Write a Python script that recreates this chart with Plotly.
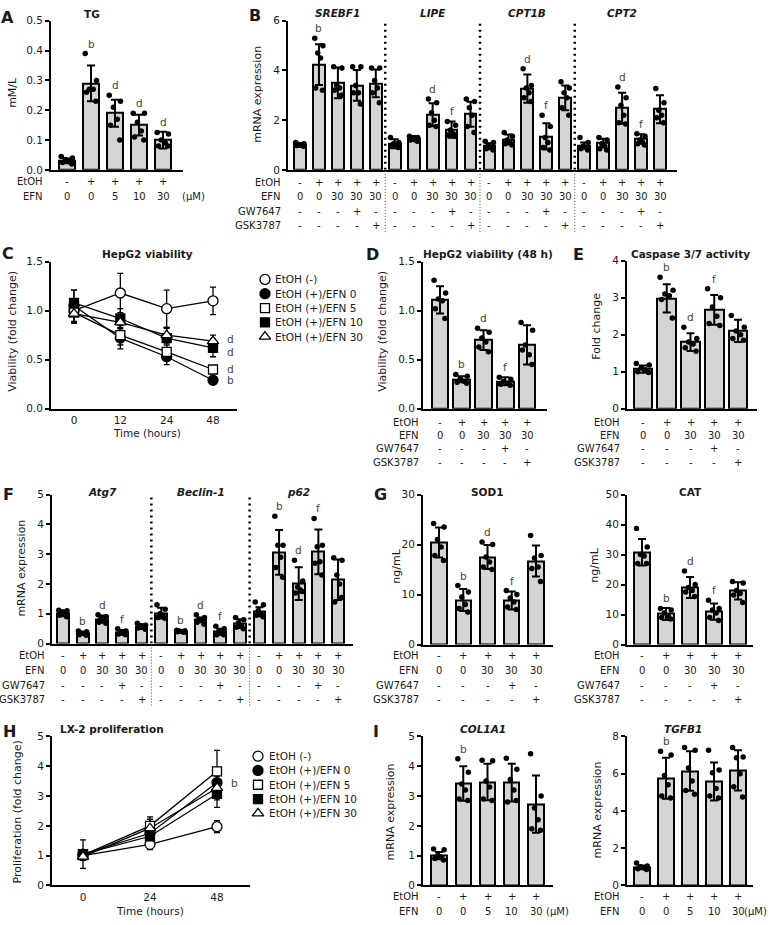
import plotly.graph_objects as go

W, H = 771, 925
FONT = "DejaVu Sans"
FS = 10
TFS = 10.5
INK = "#1a1a1a"
BARC = "#d4d4d4"


def px(x):
    return x / W


def py(y):
    return 1 - y / H


# ======================= DATA =======================
# Panel A: TG
tg_mean = [0.03, 0.29, 0.19, 0.15, 0.10]
tg_sd = [0.008, 0.06, 0.045, 0.035, 0.028]
tg_pts = [[0.045, 0.04, 0.035, 0.03, 0.025, 0.02],
          [0.39, 0.30, 0.27, 0.27, 0.26, 0.23],
          [0.25, 0.23, 0.21, 0.17, 0.15, 0.10],
          [0.19, 0.19, 0.16, 0.13, 0.11, 0.10],
          [0.125, 0.12, 0.10, 0.09, 0.08, 0.08]]
tg_letters = ["", "b", "d", "d", "d"]
tg_etoh = ["-", "+", "+", "+", "+"]
tg_efn = ["0", "0", "5", "10", "30"]

# shared treatment table (B, D, E, F, G)
trt_etoh = ["-", "+", "+", "+", "+"]
trt_efn = ["0", "0", "30", "30", "30"]
trt_gw = ["-", "-", "-", "+", "-"]
trt_gsk = ["-", "-", "-", "-", "+"]
trt_rows = ["EtOH", "EFN", "GW7647", "GSK3787"]

# Panel B: lipid genes
b_genes = ["SREBF1", "LIPE", "CPT1B", "CPT2"]
b_mean = [[1.00, 4.24, 3.50, 3.40, 3.48],
          [1.05, 1.26, 2.22, 1.62, 2.24],
          [0.95, 1.22, 3.27, 1.35, 2.90],
          [0.98, 1.09, 2.48, 1.25, 2.44]]
b_sd = [[0.08, 0.82, 0.62, 0.62, 0.56],
        [0.18, 0.10, 0.46, 0.33, 0.50],
        [0.12, 0.20, 0.57, 0.53, 0.50],
        [0.12, 0.16, 0.62, 0.18, 0.56]]
b_pts = [
    [[1.10, 1.05, 1.02, 1.0, 0.98, 0.95], [5.3, 5.0, 4.7, 4.5, 3.3, 3.2],
     [4.15, 4.1, 3.4, 3.3, 3.2, 3.0], [4.15, 4.15, 3.4, 3.1, 3.1, 2.65],
     [4.1, 4.1, 3.6, 3.3, 3.1, 2.7]],
    [[1.3, 1.1, 1.05, 1.0, 0.95, 0.9], [1.35, 1.3, 1.25, 1.2, 1.2, 1.15],
     [2.85, 2.7, 2.3, 2.0, 1.8, 1.75], [1.95, 1.8, 1.6, 1.45, 1.4, 1.35],
     [2.85, 2.75, 2.5, 2.2, 1.75, 1.5]],
    [[1.15, 1.1, 1.0, 0.9, 0.85, 0.8], [1.5, 1.35, 1.2, 1.1, 1.05, 1.0],
     [4.07, 3.4, 3.3, 3.1, 2.9, 2.75], [2.2, 1.75, 1.3, 1.1, 0.9, 0.8],
     [3.55, 3.3, 3.1, 2.9, 2.5, 2.2]],
    [[1.3, 1.1, 0.95, 0.9, 0.85, 0.8], [1.3, 1.2, 1.05, 0.95, 0.85, 0.8],
     [3.34, 2.9, 2.6, 2.2, 1.9, 1.85], [1.45, 1.35, 1.2, 1.1, 1.05, 1.0],
     [3.27, 2.7, 2.4, 2.2, 2.1, 1.9]],
]
b_letters = [["", "b", "", "", ""], ["", "", "d", "f", ""],
             ["", "", "d", "f", ""], ["", "", "d", "f", ""]]

# Panel C: HepG2 viability time course
c_times = ["0", "12", "24", "48"]
series_names = ["EtOH (-)", "EtOH (+)/EFN 0", "EtOH (+)/EFN 5",
                "EtOH (+)/EFN 10", "EtOH (+)/EFN 30"]
c_mean = [[1.00, 1.18, 1.02, 1.10],
          [1.05, 0.72, 0.53, 0.29],
          [0.98, 0.75, 0.58, 0.40],
          [1.08, 0.92, 0.72, 0.62],
          [0.97, 0.88, 0.75, 0.69]]
c_sd = [[0.05, 0.20, 0.19, 0.14],
        [0.16, 0.11, 0.08, 0.02],
        [0.10, 0.10, 0.07, 0.03],
        [0.13, 0.10, 0.10, 0.09],
        [0.10, 0.08, 0.08, 0.06]]
c_letters = ["", "b", "d", "d", "d"]

# Panel D: HepG2 viability 48 h
d_mean = [1.11, 0.30, 0.70, 0.28, 0.65]
d_sd = [0.14, 0.03, 0.10, 0.04, 0.20]
d_pts = [[1.31, 1.18, 1.12, 1.10, 1.02, 0.92], [0.35, 0.33, 0.30, 0.28, 0.27, 0.26],
         [0.82, 0.78, 0.72, 0.68, 0.63, 0.58], [0.32, 0.30, 0.28, 0.26, 0.25, 0.24],
         [0.88, 0.80, 0.65, 0.55, 0.60, 0.45]]
d_letters = ["", "b", "d", "f", ""]

# Panel E: Caspase 3/7
e_mean = [1.07, 2.98, 1.80, 2.67, 2.10]
e_sd = [0.10, 0.38, 0.24, 0.40, 0.30]
e_pts = [[1.22, 1.18, 1.10, 1.05, 1.00, 0.98], [3.55, 3.20, 3.10, 3.05, 2.95, 2.45],
         [2.20, 1.90, 1.80, 1.75, 1.65, 1.55], [3.24, 3.00, 2.75, 2.50, 2.30, 2.25],
         [2.52, 2.20, 2.10, 2.00, 1.90, 1.85]]
e_letters = ["", "b", "d", "f", ""]

# Panel F: autophagy genes
f_genes = ["Atg7", "Beclin-1", "p62"]
f_mean = [[1.02, 0.35, 0.82, 0.38, 0.57],
          [1.02, 0.42, 0.80, 0.40, 0.67],
          [1.07, 3.06, 2.01, 3.08, 2.14]]
f_sd = [[0.10, 0.05, 0.12, 0.08, 0.08],
        [0.18, 0.04, 0.08, 0.10, 0.15],
        [0.15, 0.75, 0.55, 0.75, 0.68]]
f_pts = [
    [[1.12, 1.10, 1.05, 1.0, 0.95, 0.9], [0.42, 0.40, 0.35, 0.33, 0.30, 0.28],
     [0.97, 0.90, 0.85, 0.80, 0.72, 0.68], [0.50, 0.42, 0.38, 0.35, 0.32, 0.30],
     [0.68, 0.62, 0.60, 0.55, 0.52, 0.48]],
    [[1.30, 1.15, 1.0, 0.95, 0.88, 0.85], [0.45, 0.43, 0.42, 0.40, 0.40, 0.38],
     [0.97, 0.88, 0.82, 0.78, 0.72, 0.65], [0.58, 0.50, 0.40, 0.35, 0.30, 0.30],
     [0.88, 0.80, 0.70, 0.60, 0.55, 0.50]],
    [[1.40, 1.30, 1.10, 1.0, 0.95, 0.9], [4.27, 3.30, 3.30, 2.90, 2.55, 2.23],
     [2.80, 2.10, 1.90, 1.80, 1.70, 1.75], [4.20, 3.30, 3.25, 2.75, 2.70, 2.30],
     [2.88, 2.80, 2.30, 2.00, 1.40, 1.55]],
]
f_letters = [["", "b", "d", "f", ""], ["", "b", "d", "f", ""], ["", "b", "d", "f", ""]]

# Panel G: SOD1 and CAT
sod_mean = [20.4, 8.9, 17.5, 8.8, 16.7]
sod_sd = [3.0, 2.2, 2.4, 1.8, 3.1]
sod_pts = [[24.2, 23.5, 21.0, 19.5, 17.8, 16.8], [11.8, 10.5, 9.5, 8.0, 7.2, 6.5],
           [20.5, 20.0, 17.5, 16.5, 15.5, 15.0], [10.8, 10.0, 9.3, 8.5, 7.5, 7.0],
           [21.8, 17.8, 17.3, 15.5, 15.2, 12.6]]
cat_mean = [30.8, 10.2, 19.0, 11.0, 17.9]
cat_sd = [4.4, 2.0, 3.5, 2.7, 2.9]
cat_pts = [[38.7, 32.5, 30.0, 29.5, 27.0, 27.0], [12.0, 11.5, 10.5, 9.5, 9.0, 8.5],
           [24.5, 20.0, 19.0, 18.0, 17.5, 16.0], [14.8, 12.0, 11.5, 10.5, 9.0, 8.0],
           [21.0, 20.5, 18.0, 17.0, 16.5, 14.0]]
g_letters = ["", "b", "d", "f", ""]

# Panel H: LX-2 proliferation
h_times = ["0", "24", "48"]
h_mean = [[1.00, 1.38, 1.97],
          [1.05, 1.75, 3.45],
          [1.02, 2.00, 3.83],
          [1.05, 1.65, 3.07],
          [0.97, 1.92, 3.27]]
h_sd = [[0.08, 0.18, 0.20],
        [0.48, 0.25, 0.50],
        [0.10, 0.30, 0.70],
        [0.12, 0.20, 0.45],
        [0.10, 0.30, 0.40]]
h_letters = ["", "b", "", "", ""]

# Panel I: COL1A1 and TGFB1
i_etoh = ["-", "+", "+", "+", "+"]
i_efn = ["0", "0", "5", "10", "30"]
col_mean = [1.00, 3.42, 3.47, 3.45, 2.73]
col_sd = [0.12, 0.58, 0.61, 0.63, 0.96]
col_pts = [[1.22, 1.20, 1.0, 0.95, 0.9, 0.85], [4.25, 3.80, 3.40, 3.20, 2.90, 2.85],
           [4.20, 4.18, 3.50, 3.30, 2.90, 2.85], [4.27, 3.90, 3.55, 3.20, 2.80, 2.85],
           [4.42, 3.00, 2.60, 2.20, 1.90, 1.85]]
tgf_mean = [0.97, 5.75, 6.14, 5.58, 6.18]
tgf_sd = [0.10, 1.10, 1.06, 1.02, 1.08]
tgf_pts = [[1.20, 1.05, 1.0, 0.95, 0.9, 0.85], [7.20, 7.00, 5.90, 5.40, 4.80, 4.70],
           [7.40, 7.25, 6.30, 5.60, 5.10, 4.90], [7.25, 6.20, 6.05, 5.20, 4.80, 4.70],
           [7.40, 6.90, 6.85, 6.00, 5.30, 4.75]]
i_letters = ["", "b", "", "", ""]

# ======================= FIGURE =======================
fig = go.Figure()
ann = []
shapes = []
layout = {}

JIT = [-0.36, 0.34, -0.1, 0.14, -0.28, 0.3]


def txt(t, x, y, size=FS, xanchor="center", yanchor="middle", angle=0,
        xref="paper", yref="paper", yshift=0, xshift=0, color=INK):
    ann.append(dict(text=t, x=x, y=y, xref=xref, yref=yref, showarrow=False,
                    xanchor=xanchor, yanchor=yanchor, textangle=angle,
                    yshift=yshift, xshift=xshift,
                    font=dict(family=FONT, size=size, color=color)))


def make_axes(n, xl, xr, yt, yb, xrange, yrange, ytickvals, yfmt=None,
              xtickvals=None, xticktext=None):
    layout[f"xaxis{n}"] = dict(
        domain=[px(xl), px(xr)], range=xrange, anchor=f"y{n}",
        showline=True, linecolor="black", linewidth=2, showgrid=False,
        zeroline=False, fixedrange=True,
        ticks="outside" if xtickvals else "", ticklen=1,
        tickcolor="rgba(0,0,0,0)",
        showticklabels=bool(xtickvals),
        tickvals=xtickvals, ticktext=xticktext,
        tickfont=dict(family=FONT, size=TFS, color=INK))
    layout[f"yaxis{n}"] = dict(
        domain=[py(yb), py(yt)], range=yrange, anchor=f"x{n}",
        showline=True, linecolor="black", linewidth=2, showgrid=False,
        zeroline=False, fixedrange=True, ticks="outside", ticklen=4,
        tickwidth=1.5, tickcolor="black", tickvals=ytickvals,
        tickformat=yfmt, tickfont=dict(family=FONT, size=TFS, color=INK))


def x_range(first_px, last_px, n, left_px, right_px):
    step = (last_px - first_px) / (n - 1)
    return [-(first_px - left_px) / step, (n - 1) + (right_px - last_px) / step]


def bars(n, means, sds, pts, letters, width, offset=0):
    xs = [offset + i for i in range(len(means))]
    fig.add_trace(go.Bar(
        x=xs, y=means, width=width, xaxis=f"x{n}", yaxis=f"y{n}",
        marker=dict(color=BARC, line=dict(color="black", width=2)),
        error_y=dict(type="data", array=sds, symmetric=True, color="black",
                     thickness=2, width=4),
        showlegend=False, hoverinfo="skip"))
    dx, dy = [], []
    for i, p in enumerate(pts):
        for k, v in enumerate(p):
            dx.append(offset + i + JIT[k % len(JIT)] * width)
            dy.append(v)
    fig.add_trace(go.Scatter(
        x=dx, y=dy, mode="markers", xaxis=f"x{n}", yaxis=f"y{n}",
        marker=dict(color="black", size=5.5), showlegend=False,
        hoverinfo="skip", cliponaxis=False))
    for i, l in enumerate(letters):
        if l:
            top = max(max(pts[i]), means[i] + sds[i])
            txt(l, offset + i, top, xref=f"x{n}", yref=f"y{n}", size=TFS,
                yanchor="bottom", yshift=2, color="#444444")


def table(n, rows, ys, right_px):
    for (label, vals), y in zip(rows, ys):
        txt(label, px(right_px), py(y), xanchor="right")
        for i, v in enumerate(vals):
            txt(v, i, py(y), xref=f"x{n}")


# ---- A ----
make_axes(1, 51, 183, 15, 166, x_range(67, 163, 5, 51, 183), [0, 0.5],
          [0, 0.1, 0.2, 0.3, 0.4, 0.5], ".1f")
bars(1, tg_mean, tg_sd, tg_pts, tg_letters, 0.67)
table(1, [("EtOH", tg_etoh), ("EFN", tg_efn)], [178, 193], 45)
txt("(μM)", px(180), py(193), xanchor="left")
txt("<b>TG</b>", px(92), py(8), size=10.5)
txt("mM/L", px(13), py(88), angle=-90, size=11)
txt("<b>A</b>", px(7), py(12), size=16)

# ---- B ----
nb = sum(len(m) for m in b_mean)
make_axes(2, 288, 677, 15, 166, x_range(300, 660, nb, 288, 677), [0, 6],
          [0, 2, 4, 6])
b_rows = [[], [], [], []]
for g, gene in enumerate(b_genes):
    off = g * 5
    bars(2, b_mean[g], b_sd[g], b_pts[g], b_letters[g], 0.62, offset=off)
    for r, vals in enumerate([trt_etoh, trt_efn, trt_gw, trt_gsk]):
        b_rows[r] += vals
    txt(f"<b><i>{gene}</i></b>", off + 2, py(7), xref="x2", size=10.5)
    if g > 0:
        shapes.append(dict(type="line", xref="x2", yref="y2", x0=off - 0.5,
                           x1=off - 0.5, y0=0, y1=6,
                           line=dict(color="black", width=2.5, dash="2px,4px")))
        shapes.append(dict(type="line", xref="x2", yref="paper", x0=off - 0.5,
                           x1=off - 0.5, y0=py(167), y1=py(229),
                           line=dict(color="#444", width=1, dash="1px,2px")))
table(2, list(zip(trt_rows, b_rows)), [179, 193, 208, 222], 283)
txt("mRNA expression", px(258), py(90), angle=-90, size=11)
txt("<b>B</b>", px(255), py(10), size=16)

# ---- C ----
symbols = ["circle", "circle", "square", "square", "triangle-up"]
fills = ["white", "black", "white", "black", "white"]
msize = [10, 10, 9, 9, 10]
make_axes(3, 51, 237, 259, 408, x_range(74, 213, 4, 51, 237), [0, 1.5],
          [0, 0.5, 1.0, 1.5], ".1f", xtickvals=[0, 1, 2, 3], xticktext=c_times)


def line_panel(n, means, sds, lx, ly0, lstep, ltext_x):
    xs = list(range(len(means[0])))
    for s in range(len(means)):
        fig.add_trace(go.Scatter(
            x=xs, y=means[s], mode="lines", xaxis=f"x{n}", yaxis=f"y{n}",
            line=dict(color="black", width=1.3),
            error_y=dict(type="data", array=sds[s], color="black",
                         thickness=1.3, width=3),
            showlegend=False, hoverinfo="skip"))
    for s in range(len(means)):
        fig.add_trace(go.Scatter(
            x=xs, y=means[s], mode="markers", xaxis=f"x{n}", yaxis=f"y{n}",
            marker=dict(symbol=symbols[s], size=msize[s], color=fills[s],
                        line=dict(color="black", width=1.3)),
            showlegend=False, hoverinfo="skip", cliponaxis=False))
    # legend, drawn on the pixel overlay axis
    ly = [ly0 + i * lstep for i in range(len(means))]
    for s in range(len(means)):
        fig.add_trace(go.Scatter(
            x=[lx], y=[ly[s]], mode="markers", xaxis="x12", yaxis="y12",
            marker=dict(symbol=symbols[s], size=msize[s], color=fills[s],
                        line=dict(color="black", width=1.3)),
            showlegend=False, hoverinfo="skip", cliponaxis=False))
        txt(series_names[s], px(ltext_x), py(ly[s]), xanchor="left", size=10.5)


line_panel(3, c_mean, c_sd, 265, 277, 14.5, 273)
c_shift = [0, 0, 0, -4, 2]
for s, l in enumerate(c_letters):
    if l:
        txt(l, 3, c_mean[s][-1], xref="x3", yref="y3", xshift=17, size=TFS,
            yshift=c_shift[s], color="#444444")
txt("<b>HepG2 viability</b>", px(147), py(251), size=10.5)
txt("Time (hours)", px(147), py(433), size=TFS)
txt("Viability (fold change)", px(13), py(330), angle=-90, size=11)
txt("<b>C</b>", px(8), py(251), size=16)

# ---- D ----
make_axes(4, 423, 547, 259, 408, x_range(440, 527, 5, 423, 547), [0, 1.5],
          [0, 0.5, 1.0, 1.5], ".1f")
bars(4, d_mean, d_sd, d_pts, d_letters, 0.76)
table(4, list(zip(trt_rows, [trt_etoh, trt_efn, trt_gw, trt_gsk])),
      [422, 435, 448, 462], 421)
txt("<b>HepG2 viability (48 h)</b>", px(488), py(251), size=10.5)
txt("Viability (fold change)", px(383), py(330), angle=-90, size=11)
txt("<b>D</b>", px(372), py(252), size=16)

# ---- E ----
make_axes(5, 627, 757, 258, 408, x_range(643, 738, 5, 627, 757), [0, 4],
          [0, 1, 2, 3, 4])
bars(5, e_mean, e_sd, e_pts, e_letters, 0.78)
table(5, list(zip(trt_rows, [trt_etoh, trt_efn, trt_gw, trt_gsk])),
      [422, 435, 448, 462], 622)
txt("<b>Caspase 3/7 activity</b>", px(690), py(251), size=10.5)
txt("Fold change", px(597), py(325), angle=-90, size=11)
txt("<b>E</b>", px(578), py(252), size=16)

# ---- F ----
nf = sum(len(m) for m in f_mean)
make_axes(6, 52, 353, 495, 646, x_range(63, 338, nf, 52, 353), [0, 5],
          [0, 1, 2, 3, 4, 5])
f_rows = [[], [], [], []]
for g, gene in enumerate(f_genes):
    off = g * 5
    bars(6, f_mean[g], f_sd[g], f_pts[g], f_letters[g], 0.6, offset=off)
    for r, vals in enumerate([trt_etoh, trt_efn, trt_gw, trt_gsk]):
        f_rows[r] += vals
    txt(f"<b><i>{gene}</i></b>", off + 2, py(492), xref="x6", size=10.5)
    if g > 0:
        shapes.append(dict(type="line", xref="x6", yref="y6", x0=off - 0.5,
                           x1=off - 0.5, y0=0, y1=5,
                           line=dict(color="black", width=2.5, dash="2px,4px")))
        shapes.append(dict(type="line", xref="x6", yref="paper", x0=off - 0.5,
                           x1=off - 0.5, y0=py(647), y1=py(709),
                           line=dict(color="#444", width=1, dash="1px,2px")))
table(6, list(zip(trt_rows, f_rows)), [658, 673, 688, 703], 47)
txt("mRNA expression", px(22), py(570), angle=-90, size=11)
txt("<b>F</b>", px(8), py(495), size=16)

# ---- G ----
make_axes(7, 423, 553, 495, 647, x_range(439, 536, 5, 423, 553), [0, 30],
          [0, 10, 20, 30])
bars(7, sod_mean, sod_sd, sod_pts, g_letters, 0.62)
table(7, list(zip(trt_rows, [trt_etoh, trt_efn, trt_gw, trt_gsk])),
      [658, 673, 688, 703], 421)
txt("<b>SOD1</b>", px(487), py(492), size=10.5)
txt("ng/mL", px(397), py(567), angle=-90, size=11)
txt("<b>G</b>", px(380), py(495), size=16)

make_axes(8, 627, 753, 495, 647, x_range(642, 738, 5, 627, 753), [0, 50],
          [0, 10, 20, 30, 40, 50])
bars(8, cat_mean, cat_sd, cat_pts, g_letters, 0.64)
table(8, list(zip(trt_rows, [trt_etoh, trt_efn, trt_gw, trt_gsk])),
      [658, 673, 688, 703], 622)
txt("<b>CAT</b>", px(690), py(492), size=10.5)
txt("ng/mL", px(595), py(567), angle=-90, size=11)

# ---- H ----
make_axes(9, 52, 250, 740, 891, x_range(83, 217, 3, 52, 250), [0, 5],
          [0, 1, 2, 3, 4, 5], xtickvals=[0, 1, 2], xticktext=h_times)
line_panel(9, h_mean, h_sd, 258, 760, 14.5, 267)
for s, l in enumerate(h_letters):
    if l:
        txt(l, 2, h_mean[s][-1], xref="x9", yref="y9", xshift=17, size=TFS,
            color="#444444")
txt("<b>LX-2 proliferation</b>", px(112), py(733), size=10.5)
txt("Time (hours)", px(150), py(917), size=TFS)
txt("Proliferation (fold change)", px(17), py(817), angle=-90, size=11)
txt("<b>H</b>", px(9), py(735), size=16)

# ---- I ----
make_axes(10, 423, 553, 740, 891, x_range(439, 536, 5, 423, 553), [0, 5],
          [0, 1, 2, 3, 4, 5])
bars(10, col_mean, col_sd, col_pts, i_letters, 0.62)
table(10, [("EtOH", i_etoh), ("EFN", i_efn)], [902, 917], 421)
txt("(μM)", px(544), py(917), xanchor="left")
txt("<b><i>COL1A1</i></b>", px(483), py(733), size=10.5)
txt("mRNA expression", px(390), py(817), angle=-90, size=11)
txt("<b>I</b>", px(376), py(735), size=16)

make_axes(11, 627, 753, 740, 891, x_range(642, 738, 5, 627, 753), [0, 8],
          [0, 2, 4, 6, 8])
bars(11, tgf_mean, tgf_sd, tgf_pts, i_letters, 0.63)
table(11, [("EtOH", i_etoh), ("EFN", i_efn)], [902, 917], 622)
txt("(μM)", px(769), py(917), xanchor="right")
txt("<b><i>TGFB1</i></b>", px(683), py(733), size=10.5)
txt("mRNA expression", px(597), py(815), angle=-90, size=11)

# ---- pixel overlay axis for the legend markers ----
layout["xaxis12"] = dict(domain=[0, 1], range=[0, W], anchor="y12", visible=False,
                         fixedrange=True)
layout["yaxis12"] = dict(domain=[0, 1], range=[H, 0], anchor="x12", visible=False,
                         fixedrange=True)

fig.update_layout(
    width=W, height=H, margin=dict(l=0, r=0, t=0, b=0),
    paper_bgcolor="white", plot_bgcolor="rgba(0,0,0,0)",
    showlegend=False, annotations=ann, shapes=shapes,
    font=dict(family=FONT, size=FS, color=INK),
    bargap=0, **layout)

fig.write_html("out.html",
               config={"displayModeBar": False},
               post_script="document.body.style.margin='0';"
                           "document.body.style.overflow='hidden';")
